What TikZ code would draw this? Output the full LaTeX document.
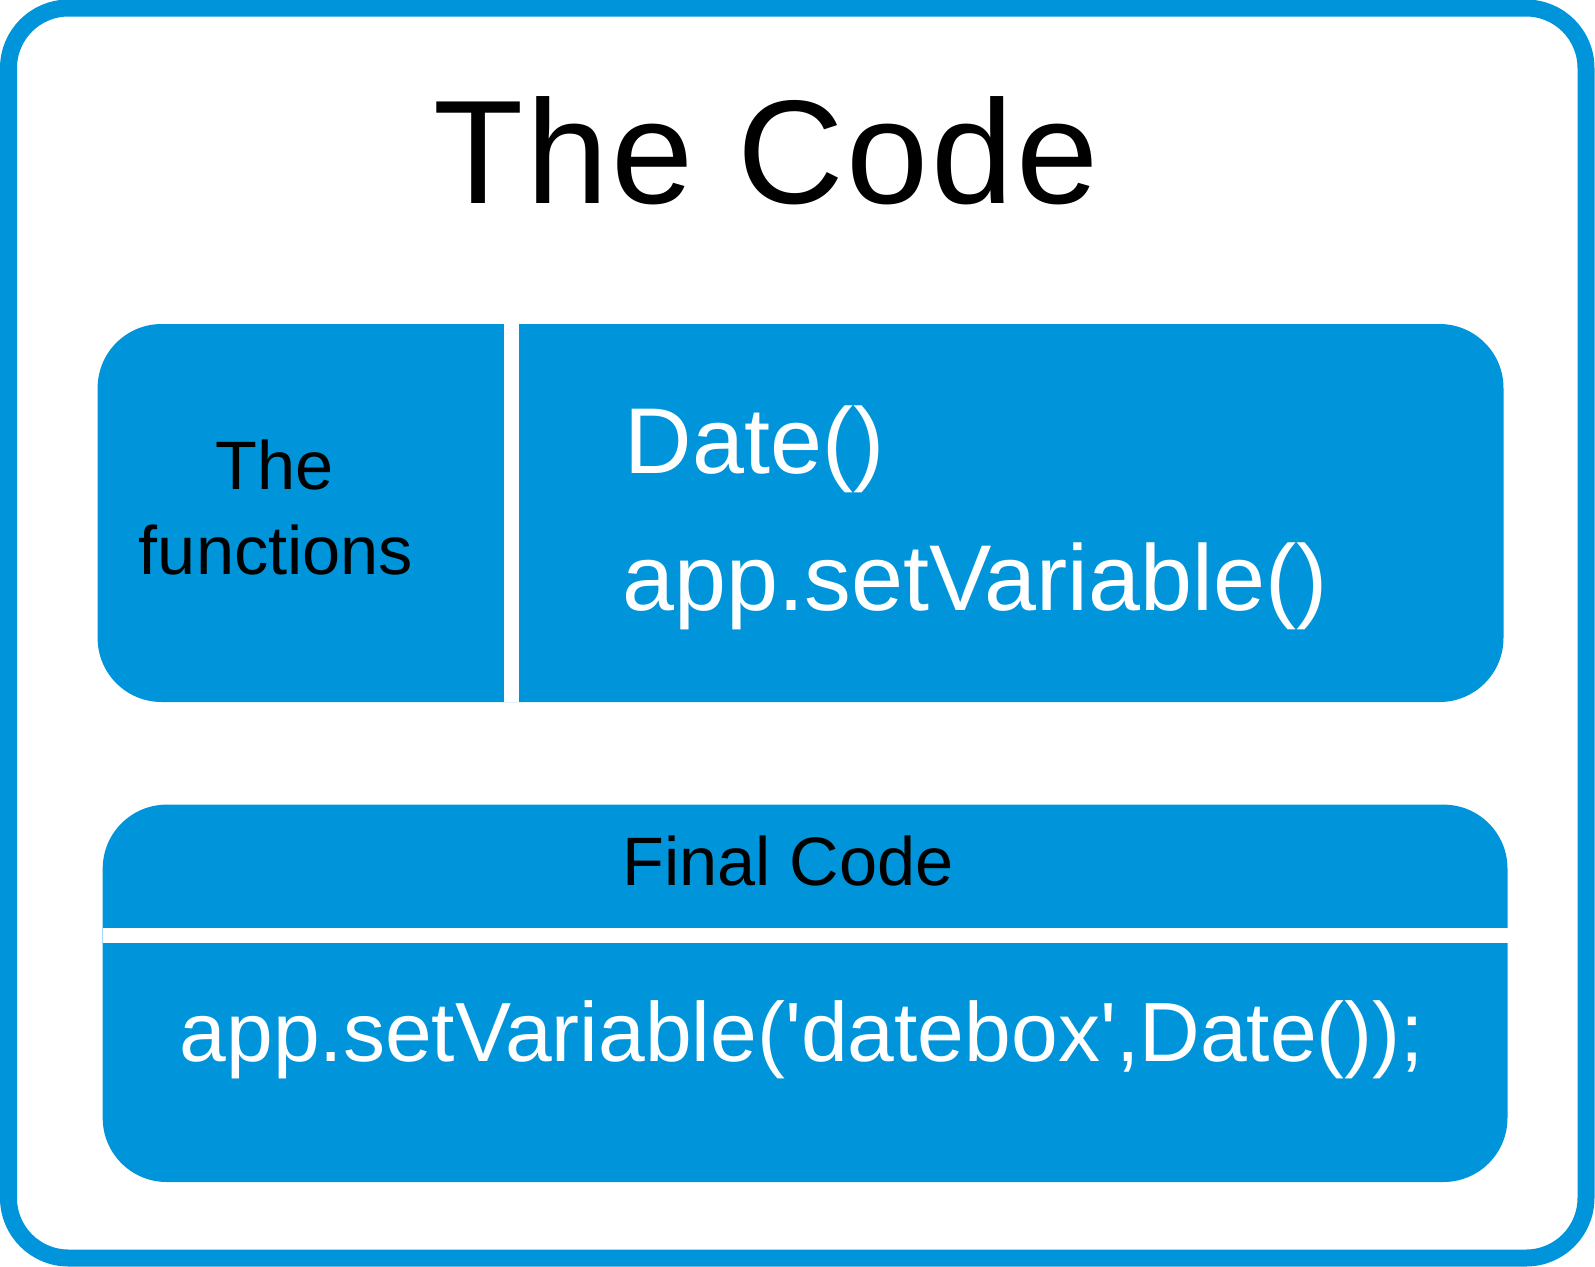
\documentclass[tikz,border=0pt]{standalone}
\usepackage{fontspec}
\setmainfont{Liberation Sans}
\usetikzlibrary{positioning}
\definecolor{CodeBlue}{RGB}{0,149,218}

\begin{document}
\begin{tikzpicture}[
        frame/.style={draw=CodeBlue, line width=0.17cm, rounded corners=0.6cm},
        panel/.style={fill=CodeBlue, rounded corners=0.64cm, inner sep=0pt},
    gap/.style={fill=white, inner sep=0pt},
        dark/.style={font=\fontsize{19.5}{24}\selectfont, text=black, inner sep=0pt},
        light/.style={font=\fontsize{26.6}{30}\selectfont, text=white, inner sep=0pt}
]
    \useasboundingbox (0,0) rectangle (15.95,-12.66);
    \draw[frame] (0.085,-0.08) rectangle (15.86,-12.58);
    \node[font=\fontsize{42}{48}\selectfont\addfontfeature{LetterSpace=2}, inner sep=0pt, anchor=base] (title) at (7.66,-2.034) {The Code};
    % functions panel
    \node[panel, minimum width=14.059cm, minimum height=3.78cm] (fnpanel) at (8.0055,-5.13) {};
    \node[gap, minimum width=0.155cm, minimum height=3.78cm] (fngap) at (5.1125,-5.13) {};
    \node[dark, anchor=base] (fnA) at (2.75,-4.893) {The};
    \node[dark, anchor=base] (fnB) at (2.76,-5.747) {functions};
    \node[light, anchor=base west] (date) at (6.24,-4.73) {Date()};
    \node[light, anchor=base west] (setvar) at (6.22,-6.10) {app.setVariable()};
    % final code panel
    \node[panel, minimum width=14.048cm, minimum height=3.774cm] (finpanel) at (8.051,-9.933) {};
    \node[gap, minimum width=14.06cm, minimum height=0.15cm] (fingap) at (8.057,-9.358) {};
    \node[dark, anchor=base] (final) at (7.88,-8.85) {Final Code};
    \node[light, font=\fontsize{23.9}{30}\selectfont, anchor=base] (code) at (8.02,-10.61) {app.setVariable(\textquotesingle datebox\textquotesingle,Date());};
\end{tikzpicture}
\end{document}
